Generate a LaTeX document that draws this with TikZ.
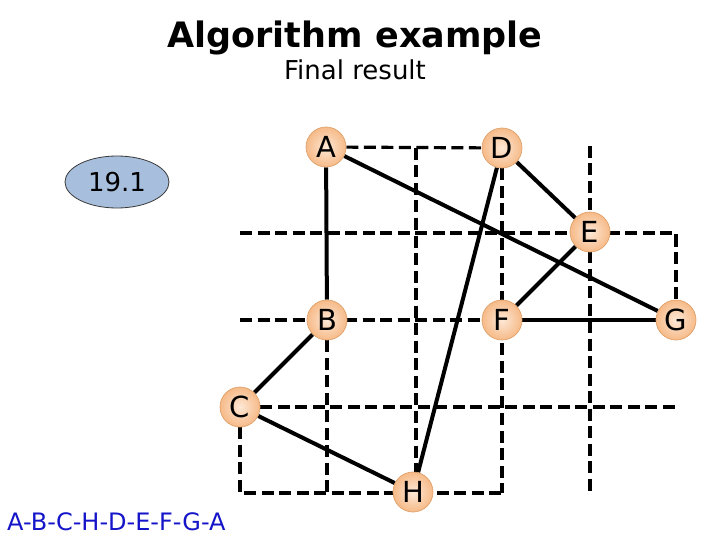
\documentclass[tikz,border=0pt]{standalone}
\usepackage{fontspec}
\setmainfont{DejaVu Sans}
\usetikzlibrary{shapes.geometric}
\definecolor{nodein}{HTML}{FDE8D6}
\definecolor{nodeout}{HTML}{F6BA88}
\definecolor{nodeedge}{HTML}{DFA26C}
\definecolor{ellfill}{HTML}{A7BFDD}
\definecolor{ellline}{HTML}{3A3A3A}
\definecolor{tourtext}{HTML}{1414C8}
\pgfdeclarelayer{bg}
\pgfsetlayers{bg,main}
\tikzset{
  city/.style={circle, minimum size=40pt, inner sep=0pt, draw=nodeedge, line width=0.7pt,
    inner color=nodein, outer color=nodeout, font=\fontsize{29}{29}\selectfont},
  gridline/.style={dash pattern=on 12pt off 5.5pt, line width=3.2pt, black},
  tour/.style={line width=4pt, black},
}
\begin{document}
\begin{tikzpicture}[x=1pt,y=-1pt]
\useasboundingbox (0,0) rectangle (720,540);
% title
\node[font=\fontsize{35}{35}\bfseries, anchor=base] (title) at (355,48) {Algorithm example};
\node[font=\fontsize{26}{26}\selectfont, anchor=base] (sub) at (355,80) {Final result};
% distance ellipse
\node[ellipse, minimum width=104pt, minimum height=52pt, inner sep=0pt, fill=ellfill, draw=ellline, line width=0.8pt,
  font=\fontsize{26}{26}\selectfont] (dist) at (117,182) {19.1};
% tour text
\node[font=\fontsize{24}{24}\selectfont, text=tourtext, anchor=base west, inner sep=0pt] (tourlbl) at (7,530) {A-B-C-H-D-E-F-G-A};
% cities
\node[city] (A) at (326,147) {A};
\node[city] (D) at (502,148) {D};
\node[city] (E) at (590,232) {E};
\node[city] (B) at (327,320) {B};
\node[city] (F) at (502,320) {F};
\node[city] (G) at (676,320) {G};
\node[city] (C) at (240,407) {C};
\node[city] (H) at (413,492) {H};
% grid coordinates
\coordinate (x416t) at (416,148);
\coordinate (x416b) at (416,493);
\coordinate (x502b) at (502,493);
\coordinate (x590t) at (590,146);
\coordinate (x590b) at (590,493);
\coordinate (r233l) at (240,233);
\coordinate (r233r) at (676,233);
\coordinate (r320l) at (240,320);
\coordinate (x327b) at (327,493);
\coordinate (r407r) at (677,407);
\coordinate (x240b) at (240,493);
\begin{pgfonlayer}{bg}
\draw[gridline] (A) -- (D);
\draw[gridline] (x416t) -- (x416b);
\draw[gridline] (D) -- (x502b);
\draw[gridline] (x590t) -- (x590b);
\draw[gridline] (r233l) -- (r233r) -- (G);
\draw[gridline] (r320l) -- (G);
\draw[gridline] (B) -- (x327b);
\draw[gridline] (C) -- (r407r);
\draw[gridline] (C) -- (x240b) -- (x502b);
% tour
\draw[tour] (A) -- (B);
\draw[tour] (B) -- (C);
\draw[tour] (C) -- (H);
\draw[tour] (H) -- (D);
\draw[tour] (D) -- (E);
\draw[tour] (E) -- (F);
\draw[tour] (F) -- (G);
\draw[tour] (G) -- (A);
\end{pgfonlayer}
\end{tikzpicture}
\end{document}
